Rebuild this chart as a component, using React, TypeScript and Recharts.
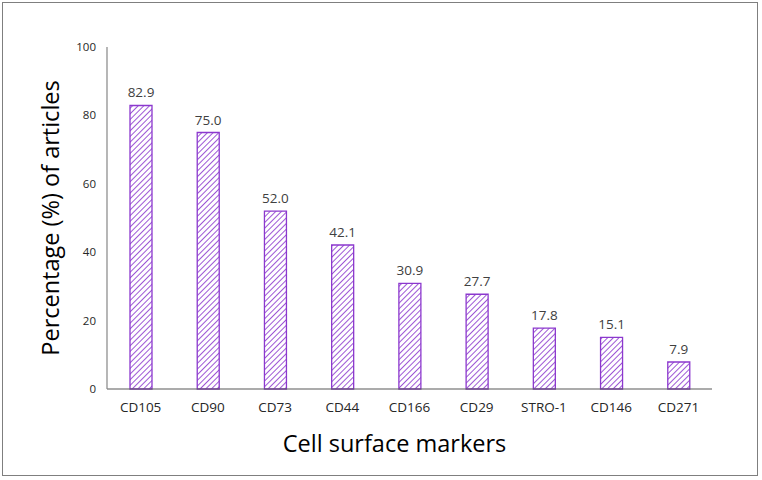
import React from "react";
import { BarChart, Bar, XAxis, YAxis, LabelList } from "recharts";

const markers = ["CD105", "CD90", "CD73", "CD44", "CD166", "CD29", "STRO-1", "CD146", "CD271"];
const percentages = [82.9, 75.0, 52.0, 42.1, 30.9, 27.7, 17.8, 15.1, 7.9];
const yTicks = [0, 20, 40, 60, 80, 100];

const data = markers.map((m, i) => ({ marker: m, value: percentages[i] }));

const FONT = "'Open Sans', 'Liberation Sans', Arial, sans-serif";
const PURPLE = "#8C38CE";

export default function App() {
  return (
    <div style={{ position: "absolute", left: 0, top: 0, width: 762, height: 480, background: "#fff" }}>
      <div
        style={{
          position: "absolute",
          left: 2,
          top: 2,
          width: 756,
          height: 474,
          border: "1px solid #7f7f7f",
          boxSizing: "border-box",
        }}
      />
      <BarChart
        width={762}
        height={480}
        data={data}
        margin={{ top: 47, right: 50, left: 0, bottom: 61 }}
        barCategoryGap={0}
        style={{ position: "absolute", left: 0, top: 0, fontFamily: FONT }}
      >
        <defs>
          <pattern id="hatch" patternUnits="userSpaceOnUse" width="4" height="4" patternTransform="rotate(45)">
            <rect width="4" height="4" fill="#ffffff" />
            <line x1="0" y1="0" x2="0" y2="4" stroke={PURPLE} strokeWidth="1.7" />
          </pattern>
        </defs>
        <XAxis
          dataKey="marker"
          height={30}
          tickLine={false}
          axisLine={{ stroke: "#595959", strokeWidth: 1.2 }}
          tick={{ fill: "#262626", fontSize: 13.5, fontFamily: FONT }}
          tickMargin={7}
          interval={0}
          label={{
            value: "Cell surface markers",
            position: "bottom",
            offset: 16,
            dx: -15,
            style: { fontSize: 23.5, fill: "#000", fontFamily: FONT },
          }}
        />
        <YAxis
          domain={[0, 100]}
          ticks={yTicks}
          width={107}
          tickLine={false}
          axisLine={{ stroke: "#868686", strokeWidth: 1.2 }}
          tick={{ fill: "#262626", fontSize: 11.5, fontFamily: FONT }}
          tickMargin={5}
          label={{
            value: "Percentage (%) of articles",
            angle: -90,
            position: "insideLeft",
            offset: 51,
            style: { fontSize: 23.5, fill: "#000", fontFamily: FONT, textAnchor: "middle" },
          }}
        />
        <Bar
          dataKey="value"
          fill="url(#hatch)"
          stroke={PURPLE}
          strokeWidth={1.3}
          barSize={22}
          isAnimationActive={false}
        >
          <LabelList
            dataKey="value"
            position="top"
            offset={8}
            formatter={(v: number) => v.toFixed(1)}
            style={{ fill: "#404040", fontSize: 13.5, fontFamily: FONT }}
          />
        </Bar>
      </BarChart>
    </div>
  );
}
